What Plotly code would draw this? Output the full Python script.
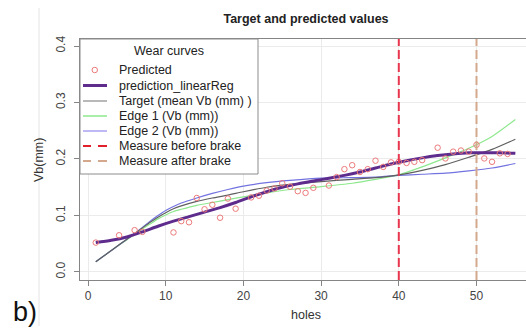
import plotly.graph_objects as go

# ---------------- data ----------------
pred_holes = [1, 4, 6, 7, 11, 12, 13, 14, 15, 16, 17, 18, 19, 21, 22, 23, 24, 25, 26, 27, 28, 29,
              31, 32, 33, 34, 35, 36, 37, 38, 39, 40, 41, 42, 43, 45, 46, 47, 48, 49, 50, 51, 52, 53, 54]
pred_vb = [0.052, 0.065, 0.074, 0.071, 0.070, 0.090, 0.088, 0.131, 0.111, 0.119, 0.096, 0.130, 0.112,
           0.132, 0.135, 0.144, 0.148, 0.157, 0.151, 0.143, 0.140, 0.149,
           0.153, 0.168, 0.182, 0.189, 0.177, 0.182, 0.197, 0.186, 0.194, 0.195, 0.193, 0.195, 0.198,
           0.220, 0.201, 0.213, 0.215, 0.213, 0.225, 0.201, 0.195, 0.210, 0.209]

linreg_holes = [1, 3, 5, 7, 9, 11, 13, 15, 17, 19, 21, 23, 25, 27, 29, 31, 33, 35, 37, 39, 41, 43, 45, 47, 49, 51, 53, 55]
linreg_vb = [0.052, 0.056, 0.062, 0.071, 0.081, 0.090, 0.098, 0.106, 0.114, 0.123, 0.133, 0.142, 0.150, 0.156,
             0.161, 0.166, 0.171, 0.177, 0.184, 0.191, 0.197, 0.202, 0.206, 0.209, 0.211, 0.211, 0.211, 0.210]

curve_holes = [1, 3, 5, 7, 8, 9, 10, 11, 12, 14, 16, 18, 20, 23, 26, 30, 34, 37, 40, 43, 46, 49, 52, 55]
target_vb = [0.018, 0.038, 0.058, 0.078, 0.088, 0.097, 0.105, 0.112, 0.117, 0.125, 0.131, 0.136, 0.142, 0.150,
             0.155, 0.160, 0.164, 0.167, 0.172, 0.180, 0.190, 0.203, 0.217, 0.235]
edge1_vb = [0.018, 0.038, 0.057, 0.076, 0.085, 0.094, 0.101, 0.107, 0.111, 0.118, 0.123, 0.128, 0.133, 0.140,
            0.146, 0.151, 0.157, 0.164, 0.172, 0.186, 0.202, 0.219, 0.240, 0.270]
edge2_vb = [0.018, 0.038, 0.058, 0.079, 0.090, 0.100, 0.109, 0.116, 0.122, 0.131, 0.139, 0.146, 0.152, 0.158,
            0.162, 0.166, 0.167, 0.168, 0.171, 0.173, 0.175, 0.179, 0.184, 0.192]

brake_before = [40]
brake_after = [50]

x_ticks = [0, 10, 20, 30, 40, 50]
y_ticks = [0.0, 0.1, 0.2, 0.3, 0.4]
y_tick_labels = ["0.0", "0.1", "0.2", "0.3", "0.4"]

legend_title = "Wear curves"
legend_labels = ["Predicted", "prediction_linearReg", "Target (mean Vb (mm) )",
                 "Edge 1 (Vb (mm))", "Edge 2 (Vb (mm))", "Measure before brake", "Measure after brake"]

# ---------------- styles ----------------
W, H = 526, 334
L, R, T, B = 80, 0, 39, 54
PW, PH = W - L - R, H - T - B
XR = [-1.03, 56.37]
YR = [-0.0142, 0.4124]

C_PRED = "#EC7A7A"
C_LIN = "#5E2C8C"
C_TGT = "#606060"
C_E1 = "#8EE88E"
C_E2 = "#7272E0"
C_BEF = "#E8364F"
C_AFT = "#D4A88C"
DASH = "9px,4px"
FONT = "Liberation Sans, Arial, sans-serif"
SPL = dict(shape="spline", smoothing=0.7)


def px(xp):
    return (xp - L) / PW


def py(yp):
    return (H - B - yp) / PH


fig = go.Figure()

fig.add_trace(go.Scatter(x=curve_holes, y=edge1_vb, mode="lines", line=dict(color=C_E1, width=1.2, **SPL), showlegend=False))
fig.add_trace(go.Scatter(x=curve_holes, y=edge2_vb, mode="lines", line=dict(color=C_E2, width=1.2, **SPL), showlegend=False))
fig.add_trace(go.Scatter(x=curve_holes, y=target_vb, mode="lines", line=dict(color=C_TGT, width=1.2, **SPL), showlegend=False))
fig.add_trace(go.Scatter(x=linreg_holes, y=linreg_vb, mode="lines", line=dict(color=C_LIN, width=3, **SPL), showlegend=False))
fig.add_trace(go.Scatter(x=pred_holes, y=pred_vb, mode="markers",
                         marker=dict(symbol="circle-open", size=5.5, color=C_PRED, line=dict(width=1)), showlegend=False))
for xv in brake_before:
    fig.add_trace(go.Scatter(x=[xv, xv], y=YR, mode="lines", line=dict(color=C_BEF, width=2, dash=DASH), showlegend=False))
for xv in brake_after:
    fig.add_trace(go.Scatter(x=[xv, xv], y=YR, mode="lines", line=dict(color=C_AFT, width=2, dash=DASH), showlegend=False))

shapes = []
annotations = []

# faint outer frame line on the left of the panel
shapes.append(dict(type="line", xref="paper", yref="paper", x0=px(39), x1=px(39), y0=py(8), y1=py(326),
                   line=dict(color="#e4e4e4", width=1), layer="below"))

# manual legend box
shapes.append(dict(type="rect", xref="paper", yref="paper", x0=px(80), x1=px(258), y0=py(39), y1=py(174),
                   fillcolor="white", line=dict(color="#8c8c8c", width=1), layer="above"))
annotations.append(dict(text=legend_title, xref="paper", yref="paper", x=px(169), y=py(51), showarrow=False,
                        xanchor="center", yanchor="middle", font=dict(size=12.5, color="#222", family=FONT)))
item_y = [70, 85.5, 101, 116, 131, 146, 161]
sym_styles = [
    ("marker", C_PRED, 1, None),
    ("line", C_LIN, 3, None),
    ("line", "#A0A0A0", 1.5, None),
    ("line", C_E1, 1.5, None),
    ("line", "#A8A2F0", 1.5, None),
    ("line", "#E0202C", 2, "dash"),
    ("line", C_AFT, 2, "dash"),
]
for lab, yy, (kind, col, wd, ds) in zip(legend_labels, item_y, sym_styles):
    if kind == "marker":
        shapes.append(dict(type="circle", xref="paper", yref="paper", x0=px(92), x1=px(97.5), y0=py(yy - 2.75), y1=py(yy + 2.75),
                           line=dict(color=col, width=1), layer="above"))
    elif ds is None:
        shapes.append(dict(type="line", xref="paper", yref="paper", x0=px(83), x1=px(107), y0=py(yy), y1=py(yy),
                           line=dict(color=col, width=wd), layer="above"))
    else:
        for a, b in [(83, 91), (98, 107)]:
            shapes.append(dict(type="line", xref="paper", yref="paper", x0=px(a), x1=px(b), y0=py(yy), y1=py(yy),
                               line=dict(color=col, width=wd), layer="above"))
    annotations.append(dict(text=lab, xref="paper", yref="paper", x=px(117), y=py(yy), showarrow=False,
                            xanchor="left", yanchor="middle", font=dict(size=12.5, color="#222", family=FONT)))

# axis titles and panel label
annotations.append(dict(text="holes", xref="paper", yref="paper", x=px(306), y=py(315), showarrow=False,
                        xanchor="center", yanchor="middle", font=dict(size=12.5, color="#333", family=FONT)))
annotations.append(dict(text="Vb(mm)", xref="paper", yref="paper", x=px(39), y=py(160), showarrow=False, textangle=-90,
                        xanchor="center", yanchor="middle", font=dict(size=12.5, color="#333", family=FONT)))
annotations.append(dict(text="b)", xref="paper", yref="paper", x=px(25), y=py(312), showarrow=False,
                        xanchor="center", yanchor="middle", font=dict(size=27, color="#111", family=FONT)))

fig.update_layout(
    width=W, height=H,
    margin=dict(l=L, r=R, t=T, b=B),
    paper_bgcolor="white", plot_bgcolor="white",
    font=dict(family=FONT, size=12, color="#444"),
    title=dict(text="<b>Target and predicted values</b>", x=px(306), xref="paper", xanchor="center",
               y=1 - 19 / H, yref="container", yanchor="middle", font=dict(size=12.5, color="#222", family=FONT)),
    shapes=shapes, annotations=annotations, showlegend=False,
)
fig.update_xaxes(range=XR, tickmode="array", tickvals=x_ticks, showgrid=True, gridcolor="#ebebeb", gridwidth=1,
                 zeroline=False, showline=True, mirror=True, linecolor="#858585", linewidth=1,
                 ticks="outside", ticklen=5, tickcolor="#858585", tickfont=dict(size=12, color="#444"))
fig.update_yaxes(range=YR, tickmode="array", tickvals=y_ticks, ticktext=y_tick_labels, tickangle=-90,
                 showgrid=True, gridcolor="#ebebeb", gridwidth=1, ticklabelstandoff=4,
                 zeroline=False, showline=True, mirror=False, linecolor="#858585", linewidth=1,
                 ticks="outside", ticklen=5, tickcolor="#858585", tickfont=dict(size=12, color="#444"))

fig.write_html("out.html")
